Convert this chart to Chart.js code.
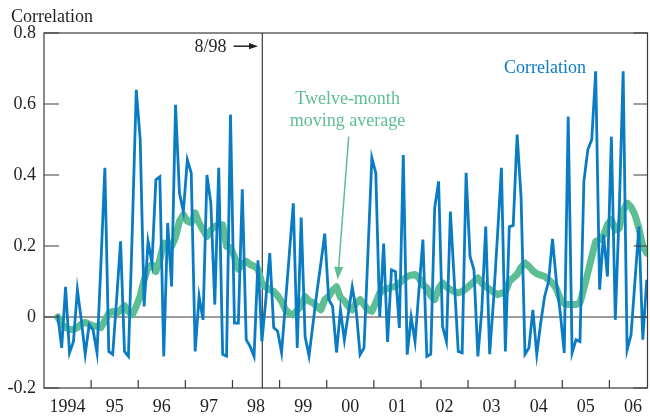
<!DOCTYPE html>
<html>
<head>
<meta charset="utf-8">
<script src="https://cdn.jsdelivr.net/npm/chart.js@4.4.1/dist/chart.umd.min.js"></script>
<style>
  html, body { margin: 0; padding: 0; background: #fff; }
</style>
</head>
<body>
<canvas id="chart" width="650" height="418"></canvas>
<script>
// months counted from Jan 1994, both series start in Apr 1994
const startMonth = 3;

// monthly correlation
const correlation = [
    0.006, -0.087, 0.085, -0.101, -0.069, 0.077, -0.008, -0.105, -0.022, -0.036,
    -0.101, 0.15, 0.42, -0.097, -0.105, 0.05, 0.213, -0.097, -0.111, 0.25,
    0.64, 0.5, 0.03, 0.213, 0.152, 0.387, 0.395, -0.111, 0.265, 0.086,
    0.598, 0.349, 0.297, 0.443, 0.406, -0.097, 0.058, -0.008, 0.4, 0.32,
    0.035, 0.42, -0.105, -0.11, 0.57, -0.017, -0.017, 0.36, -0.064, -0.083,
    -0.111, 0.16, -0.069, 0.05, 0.18, -0.03, -0.04, -0.1, 0.04, 0.18,
    0.32, -0.087, 0.28, -0.055, -0.11, -0.02, 0.07, 0.15, 0.235, 0.05,
    0.03, -0.1, 0.02, -0.065, 0.01, 0.085, 0.02, -0.106, -0.087, 0.18,
    0.448, 0.406, 0.0, 0.207, -0.07, 0.133, 0.128, -0.031, 0.456, -0.106,
    0.0, -0.069, 0.077, 0.218, -0.111, -0.105, 0.307, 0.382, -0.026, -0.069,
    0.297, 0.1, -0.097, -0.101, 0.406, 0.171, 0.133, -0.111, 0.02, 0.255,
    -0.105, 0.05, 0.23, 0.42, -0.097, 0.254, 0.258, 0.514, 0.337, -0.105,
    -0.087, 0.02, -0.105, -0.017, 0.058, 0.1, 0.22, 0.1, 0.01, -0.101,
    0.565, -0.101, -0.064, -0.069, 0.382, 0.471, 0.5, 0.692, 0.077, 0.232,
    0.114, 0.508, -0.008, 0.3, 0.692, -0.093, -0.051, 0.1, 0.255, -0.064,
    0.105
];

// twelve-month moving average
const movingAverage = [
    0.0, -0.02, -0.03, -0.035, -0.035, -0.03, -0.02, -0.015, -0.02, -0.025,
    -0.026, -0.03, -0.01, 0.01, 0.016, 0.01, 0.02, 0.032, 0.015, 0.006,
    0.03, 0.06, 0.105, 0.14, 0.147, 0.128, 0.161, 0.208, 0.205, 0.199,
    0.225, 0.27, 0.288, 0.27, 0.265, 0.293, 0.265, 0.245, 0.227, 0.245,
    0.255, 0.26, 0.26, 0.199, 0.195, 0.17, 0.135, 0.15, 0.157, 0.148,
    0.143, 0.135, 0.095, 0.085, 0.077, 0.072, 0.06, 0.044, 0.02, 0.01,
    0.006, 0.02, 0.03, 0.058, 0.045, 0.04, 0.03, 0.02, 0.049, 0.058,
    0.075, 0.085, 0.055, 0.045, 0.03, 0.02, 0.04, 0.049, 0.035, 0.02,
    0.016, 0.04, 0.068, 0.077, 0.08, 0.084, 0.086, 0.095, 0.105, 0.114,
    0.118, 0.12, 0.11, 0.09, 0.082, 0.06, 0.049, 0.08, 0.096, 0.085,
    0.077, 0.072, 0.068, 0.072, 0.08, 0.09, 0.1, 0.11, 0.095, 0.085,
    0.078, 0.07, 0.063, 0.067, 0.07, 0.1, 0.11, 0.12, 0.14, 0.152,
    0.143, 0.13, 0.122, 0.118, 0.114, 0.105, 0.095, 0.08, 0.05, 0.038,
    0.035, 0.035, 0.035, 0.04, 0.08, 0.124, 0.17, 0.213, 0.218, 0.23,
    0.26, 0.274, 0.245, 0.25, 0.3, 0.321, 0.31, 0.288, 0.25, 0.2,
    0.18
];

// axis labels
const yearLabels = ['1994', '95', '96', '97', '98', '99', '00', '01', '02', '03', '04', '05', '06'];
const yTickValues = [-0.2, 0, 0.2, 0.4, 0.6, 0.8];
const yTickLabels = ['-0.2', '0', '0.2', '0.4', '0.6', '0.8'];

const blue = '#0a7cc3';
const green = '#5dbe93';
const ink = '#231f20';
const fontFamily = '"Liberation Serif", "DejaVu Serif", serif';

// points sit in the middle of their month
const toPoints = values => values.map((v, i) => ({ x: startMonth + i + 0.5, y: v }));

function arrow(ctx, x1, y1, x2, y2, color, width, head) {
    const a = Math.atan2(y2 - y1, x2 - x1);
    ctx.strokeStyle = color;
    ctx.fillStyle = color;
    ctx.lineWidth = width;
    ctx.beginPath();
    ctx.moveTo(x1, y1);
    ctx.lineTo(x2 - Math.cos(a) * head, y2 - Math.sin(a) * head);
    ctx.stroke();
    ctx.beginPath();
    ctx.moveTo(x2, y2);
    ctx.lineTo(x2 - Math.cos(a) * head - Math.sin(a) * head * 0.35, y2 - Math.sin(a) * head + Math.cos(a) * head * 0.35);
    ctx.lineTo(x2 - Math.cos(a) * head + Math.sin(a) * head * 0.35, y2 - Math.sin(a) * head - Math.cos(a) * head * 0.35);
    ctx.closePath();
    ctx.fill();
}

const frame = {
    id: 'frame',
    beforeDatasetsDraw(chart) {
        const { ctx, chartArea: a, scales: { x, y } } = chart;
        ctx.save();
        ctx.strokeStyle = '#3a3a3a';
        ctx.lineWidth = 1.2;
        // zero line
        ctx.beginPath();
        ctx.moveTo(a.left, y.getPixelForValue(0));
        ctx.lineTo(a.right, y.getPixelForValue(0));
        ctx.stroke();
        // 8/98 marker
        const xm = x.getPixelForValue(55.6);
        ctx.beginPath();
        ctx.moveTo(xm, a.top);
        ctx.lineTo(xm, a.bottom);
        ctx.stroke();
        ctx.restore();
    },
    afterDraw(chart) {
        const { ctx, chartArea: a, scales: { x, y } } = chart;
        ctx.save();
        ctx.strokeStyle = '#3a3a3a';
        ctx.lineWidth = 1.2;
        ctx.strokeRect(a.left, a.top, a.right - a.left, a.bottom - a.top);

        // inward ticks
        ctx.beginPath();
        yTickValues.forEach(v => {
            const py = y.getPixelForValue(v);
            ctx.moveTo(a.left, py); ctx.lineTo(a.left + 15, py);
            ctx.moveTo(a.right, py); ctx.lineTo(a.right - 14, py);
        });
        for (let m = 12; m < x.max; m += 12) {
            const px = x.getPixelForValue(m);
            ctx.moveTo(px, a.bottom); ctx.lineTo(px, a.bottom - 8);
        }
        ctx.stroke();

        ctx.font = '18px ' + fontFamily;
        ctx.textBaseline = 'middle';

        // axis title
        ctx.fillStyle = ink;
        ctx.textAlign = 'left';
        ctx.fillText('Correlation', 11, 17);

        // 8/98 note
        const ny = y.getPixelForValue(0.76);
        ctx.textAlign = 'right';
        ctx.fillText('8/98', x.getPixelForValue(46.5), ny);
        arrow(ctx, x.getPixelForValue(48.3), ny - 1, x.getPixelForValue(54.5), ny - 1, ink, 1.5, 9);

        // series labels
        ctx.textAlign = 'center';
        ctx.fillStyle = green;
        ctx.fillText('Twelve-month', x.getPixelForValue(77.3), y.getPixelForValue(0.612));
        ctx.fillText('moving average', x.getPixelForValue(77.3), y.getPixelForValue(0.55));
        arrow(ctx, x.getPixelForValue(77.6), y.getPixelForValue(0.508),
              x.getPixelForValue(74.8), y.getPixelForValue(0.105), green, 1.5, 13);

        ctx.fillStyle = blue;
        ctx.fillText('Correlation', x.getPixelForValue(127.6), y.getPixelForValue(0.701));
        ctx.restore();
    }
};

new Chart(document.getElementById('chart'), {
    type: 'line',
    data: {
        datasets: [{
            label: 'Correlation',
            data: toPoints(correlation),
            borderColor: blue,
            borderWidth: 2.8,
            pointRadius: 0,
            tension: 0
        }, {
            label: 'Twelve-month moving average',
            data: toPoints(movingAverage),
            borderColor: green,
            borderWidth: 7,
            borderJoinStyle: 'round',
            borderCapStyle: 'round',
            pointRadius: 0,
            tension: 0
        }]
    },
    options: {
        responsive: false,
        animation: false,
        layout: { padding: { top: 33, right: 1, left: 0, bottom: 0 } },
        plugins: {
            legend: { display: false },
            tooltip: { enabled: false }
        },
        scales: {
            x: {
                type: 'linear',
                min: 0,
                max: 153.7,
                afterBuildTicks: s => { s.ticks = yearLabels.map((_, i) => ({ value: 6 + 12 * i })); },
                afterFit: s => { s.height = 30; },
                ticks: {
                    callback: v => yearLabels[Math.round((v - 6) / 12)],
                    font: { family: fontFamily, size: 18 },
                    color: ink,
                    padding: 8,
                    maxRotation: 0,
                    autoSkip: false
                },
                grid: { display: false, drawTicks: false },
                border: { display: false }
            },
            y: {
                min: -0.2,
                max: 0.8,
                afterBuildTicks: s => { s.ticks = yTickValues.map(v => ({ value: v })); },
                afterFit: s => { s.width = 44; },
                ticks: {
                    callback: v => yTickLabels[yTickValues.findIndex(t => Math.abs(t - v) < 1e-6)],
                    font: { family: fontFamily, size: 18 },
                    color: ink,
                    padding: 8
                },
                grid: { display: false, drawTicks: false },
                border: { display: false }
            }
        }
    },
    plugins: [frame]
});
</script>
</body>
</html>
